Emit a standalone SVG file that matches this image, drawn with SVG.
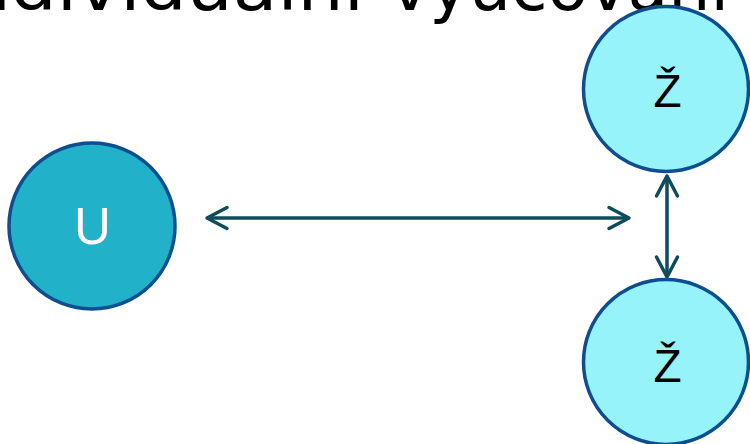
<svg xmlns="http://www.w3.org/2000/svg" width="750" height="444" viewBox="0 0 750 444">
  <style>
    .title { font-family: "DejaVu Sans", "Liberation Sans", sans-serif; font-size: 68px; fill: #000000; }
    .node { stroke: #0C4E8E; stroke-width: 3.5; }
    .teacher { fill: #21B1C9; }
    .pupil { fill: #95F3F9; }
    .lbl { font-family: "Liberation Sans", Arial, sans-serif; text-anchor: middle; }
    .conn { fill: none; stroke: #0E4B5B; stroke-width: 3.5; marker-start: url(#chev); marker-end: url(#chev); }
  </style>
  <defs>
    <marker id="chev" viewBox="-24 -13 28 26" refX="0" refY="0" markerWidth="28" markerHeight="26" markerUnits="userSpaceOnUse" orient="auto-start-reverse">
      <path d="M-20,-10.5 L0,0 L-20,10.5" fill="none" stroke="#0E4B5B" stroke-width="3.5" stroke-linecap="round" stroke-linejoin="round"/>
    </marker>
  </defs>
  <rect width="750" height="444" fill="#FFFFFF"/>
  <text class="title" y="10"><tspan x="-57" textLength="421" lengthAdjust="spacingAndGlyphs">Individuální</tspan><tspan x="390" textLength="339" lengthAdjust="spacingAndGlyphs">vyučování</tspan></text>
  <g id="connectors">
    <line class="conn" x1="207" y1="218" x2="629" y2="218"/>
    <line class="conn" x1="667" y1="176" x2="667" y2="277"/>
  </g>
  <g id="node-U">
    <circle class="node teacher" cx="92" cy="226" r="83"/>
    <text class="lbl" x="92.5" y="244" font-size="51" fill="#FFFFFF">U</text>
  </g>
  <g id="node-Z1">
    <circle class="node pupil" cx="666" cy="89" r="82.5"/>
    <text class="lbl" x="667.5" y="107" font-size="46" fill="#000000">Ž</text>
  </g>
  <g id="node-Z2">
    <circle class="node pupil" cx="666" cy="362" r="82.5"/>
    <text class="lbl" x="667.5" y="382" font-size="46" fill="#000000">Ž</text>
  </g>
</svg>
